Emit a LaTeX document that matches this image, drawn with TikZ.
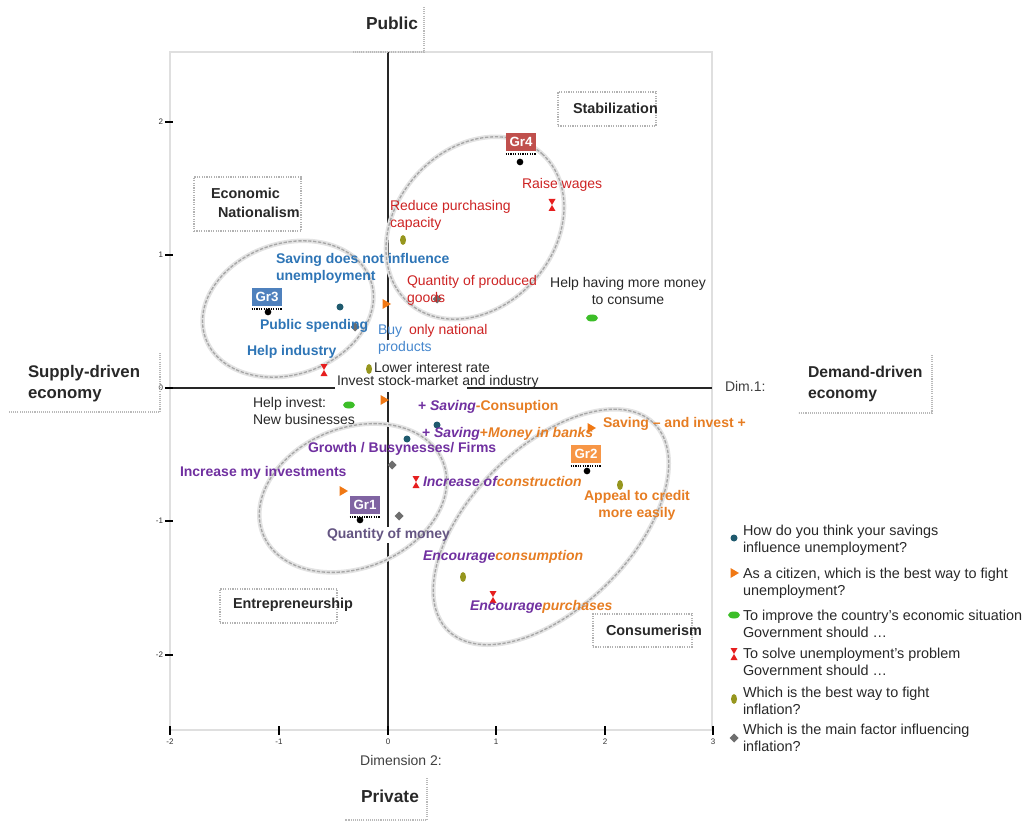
\documentclass[tikz,border=0pt]{standalone}
\usepackage{fontspec}
\setmainfont{Liberation Sans}
\definecolor{cblue}{RGB}{46,117,182}
\definecolor{cbluelt}{RGB}{70,135,205}
\definecolor{cred}{RGB}{205,35,35}
\definecolor{cpurple}{RGB}{112,48,160}
\definecolor{corange}{RGB}{230,125,35}
\definecolor{cqm}{RGB}{100,85,130}
\definecolor{gfour}{RGB}{192,80,77}
\definecolor{gthree}{RGB}{79,129,189}
\definecolor{gone}{RGB}{128,100,162}
\definecolor{gtwo}{RGB}{247,150,70}
\definecolor{mteal}{RGB}{31,90,110}
\definecolor{mor}{RGB}{240,120,20}
\definecolor{mgreen}{RGB}{60,190,40}
\definecolor{mred}{RGB}{230,30,30}
\definecolor{molive}{RGB}{150,150,30}
\definecolor{mgrey}{RGB}{110,110,110}
\definecolor{ctext}{RGB}{40,40,40}
\newcommand\labfont{\fontsize{10.5}{12.75}\selectfont}
\newcommand\legfont{\fontsize{10.8}{12.6}\selectfont}
\tikzset{
 axisline/.style={draw=black!85, line width=1.6pt},
 tickmark/.style={draw=black, line width=1.5pt},
 ticklab/.style={font=\fontsize{6}{7}\selectfont, text=black!80},
 plotframe/.style={draw=gray!25, line width=0.8pt},
 ellout/.style={draw=gray!22, line width=3.4pt},
 ellin/.style={draw=gray!70, line width=1pt, dash pattern=on 2.5pt off 1.2pt},
 lbox/.style={draw=gray!60, line width=1.3pt, dash pattern=on 0.9pt off 0.9pt, inner sep=0pt, anchor=north west},
 shadowline/.style={draw=gray!55, line width=2.2pt, dash pattern=on 0.8pt off 0.8pt},
 boxtxt/.style={font=\bfseries\fontsize{10.8}{14.25}\selectfont, anchor=west, align=left, text=ctext},
 bigtxt/.style={font=\bfseries\fontsize{12.6}{15.75}\selectfont, align=left, text=ctext},
 lab/.style={font=\labfont, anchor=west, align=left},
 grp/.style={text=white, font=\bfseries\fontsize{10}{12}\selectfont, minimum width=23pt, minimum height=14pt, inner sep=1pt},
 cdot/.style={circle, fill=black, minimum size=5pt, inner sep=0pt},
 leg/.style={font=\legfont, anchor=west, align=left, text=ctext},
 mcirc/.pic={\fill[mteal] (0,0) circle [radius=3.5];},
 mtri/.pic={\fill[mor] (-3.5,-5) -- (5,0) -- (-3.5,5) -- cycle;},
 mgrn/.pic={\fill[mgreen] (0,0) ellipse [x radius=6, y radius=3.5];},
 mhour/.pic={\fill[mred] (-3.5,-6) -- (3.5,-6) -- (-3.5,6) -- (3.5,6) -- cycle;},
 moli/.pic={\fill[molive] (0,0) ellipse [x radius=3, y radius=5];},
 mdia/.pic={\fill[mgrey] (0,-4.5) -- (4.5,0) -- (0,4.5) -- (-4.5,0) -- cycle;},
}
\begin{document}
\begin{tikzpicture}[x=0.75pt,y=-0.75pt, every node/.style={inner sep=0pt, outer sep=0pt}]
\useasboundingbox (0,0) rectangle (1027,823);
% plot frame
\draw[plotframe] (170,52) rectangle (712,730);
% axes
\draw[axisline] (388,52) -- (388,340);
\draw[axisline] (388,392) -- (388,527);
\draw[axisline] (388,543) -- (388,730);
\draw[axisline] (170,388) -- (335,388);
\draw[axisline] (467,388) -- (712,388);
% ticks
\foreach \yy/\t/\n in {122/2/a,255/1/b,388/0/c,521/-1/d,655/-2/e}{
  \draw[tickmark] (165,\yy) -- (173,\yy);
  \node[ticklab, anchor=east] (yt\n) at (163,\yy) {\t};
}
\foreach \xx/\t/\n in {170/-2/a,279/-1/b,388/0/c,496/1/d,605/2/e,713/3/f}{
  \draw[tickmark] (\xx,726) -- (\xx,735);
  \node[ticklab] (xt\n) at (\xx,742) {\t};
}
% group ellipses
\foreach \cx/\cy/\ang/\ra/\rb in {288/309/19/87.5/65.5, 475/228/48/100/79, 353/498/22/97/70, 551/527/45/146/80}{
  \draw[ellout, rotate around={\ang:(\cx,\cy)}] (\cx,\cy) ellipse [x radius=\ra, y radius=\rb];
  \draw[ellin, rotate around={\ang:(\cx,\cy)}] (\cx,\cy) ellipse [x radius=\ra, y radius=\rb];
}
% axis titles
\node[bigtxt, font=\bfseries\fontsize{13}{15}\selectfont] (public) at (392,23) {Public};
\draw[shadowline] (424,7) -- (424,52) -- (352,52);
\node[bigtxt, font=\bfseries\fontsize{13}{15}\selectfont] (private) at (390,796) {Private};
\draw[shadowline] (427,778) -- (427,820) -- (345,820);
\node[bigtxt, anchor=west] (supply) at (28,383.5) {Supply-driven\\economy};
\draw[shadowline] (160,353) -- (160,412) -- (9,412);
\node[bigtxt, anchor=west, font=\bfseries\fontsize{11.8}{15.75}\selectfont] (demand) at (808,383.5) {Demand-driven\\economy};
\draw[shadowline] (932,355) -- (932,413) -- (798,413);
\node[lab, text=black!75] (dim1) at (725,386) {Dim.1:};
\node[font=\labfont, text=black!75] (dim2) at (401,760) {Dimension 2:};
% quadrant boxes
\node[lbox, minimum width=80.25pt, minimum height=40.5pt] (bxnat) at (194,177) {};
\node[boxtxt] (tnat) at (211,202.5) {Economic\\\hspace*{5.25pt}Nationalism};
\node[lbox, minimum width=73.5pt, minimum height=25.5pt] (bxstab) at (558,92) {};
\node[boxtxt] (tstab) at (573,108) {Stabilization};
\node[lbox, minimum width=87.75pt, minimum height=25.5pt] (bxent) at (220,589) {};
\node[boxtxt] (tent) at (233,605) {Entrepreneurship};
\node[lbox, minimum width=74.25pt, minimum height=24.75pt] (bxcons) at (593,614) {};
\node[boxtxt] (tcons) at (606,630) {Consumerism};
% markers
\foreach \p in {(340,307),(437,425),(407,439)} {\pic at \p {mcirc};}
\foreach \p in {(386,304),(384,400),(343,491),(591,428)} {\pic at \p {mtri};}
\foreach \p in {(349,405),(592,318)} {\pic at \p {mgrn};}
\foreach \p in {(552,205),(324,370),(416,482),(493,597)} {\pic at \p {mhour};}
\foreach \p in {(403,240),(369,369),(620,485),(463,577)} {\pic at \p {moli};}
\foreach \p in {(392,465),(399,516),(437,299),(355,327)} {\pic at \p {mdia};}
% data labels
\node[lab, text=cblue, font=\bfseries\labfont] (l1) at (276,268.5) {Saving does not influence\\unemployment};
\node[lab, text=cblue, font=\bfseries\labfont] (l2) at (260,326) {Public spending};
\node[lab, text=cblue, font=\bfseries\labfont] (l3) at (247,352) {Help industry};
\node[lab, text=cbluelt] (l4) at (378,339.5) {Buy\\products};
\node[lab, text=cred] (l5) at (409,331) {only national};
\node[lab, text=cred] (l6) at (407,290.5) {Quantity of produced\\goods};
\node[lab, text=cred] (l7) at (390,215.5) {Reduce purchasing\\capacity};
\node[lab, text=cred] (l8) at (522,185) {Raise wages};
\node[font=\labfont, align=center, text=ctext] (l9) at (628,291) {Help having more money\\to consume};
\node[lab, text=ctext] (l10) at (374,367) {Lower interest rate};
\node[lab, text=ctext] (l11) at (337,382) {Invest stock-market and industry};
\node[lab, text=ctext] (l12) at (253,411) {Help invest:\\New businesses};
\node[lab, font=\bfseries\labfont] (l13) at (418,407) {\textcolor{cpurple}{+ \textit{Saving}}\textcolor{corange}{-Consuption}};
\node[lab, font=\bfseries\labfont] (l14) at (422,434) {\textcolor{cpurple}{+ \textit{Saving}}\textcolor{corange}{ +\textit{Money in banks}}};
\node[lab, text=corange, font=\bfseries\labfont] (l15) at (603,424) {Saving -- and invest +};
\node[lab, text=cpurple, font=\bfseries\labfont] (l16) at (308,449) {Growth / Busynesses/ Firms};
\node[lab, text=cpurple, font=\bfseries\labfont] (l17) at (180,473) {Increase my investments};
\node[lab, font=\bfseries\itshape\labfont] (l18) at (423,481) {\textcolor{cpurple}{Increase of}\textcolor{corange}{ construction}};
\node[font=\bfseries\labfont, align=center, text=corange] (l19) at (637,505.5) {Appeal to credit\\more easily};
\node[lab, text=cqm, font=\bfseries\labfont] (l20) at (327,535) {Quantity of money};
\node[lab, font=\bfseries\itshape\labfont] (l21) at (423,557) {\textcolor{cpurple}{Encourage}\textcolor{corange}{consumption}};
\node[lab, font=\bfseries\itshape\labfont] (l22) at (470,607) {\textcolor{cpurple}{Encourage}\textcolor{corange}{purchases}};
% group labels and centroids
\node[grp, fill=gfour] (g4) at (521,142) {Gr4};
\node[cdot] (c4) at (520,162) {};
\node[grp, fill=gthree] (g3) at (267,297) {Gr3};
\node[cdot] (c3) at (268,312) {};
\node[grp, fill=gone] (g1) at (365,505) {Gr1};
\node[cdot] (c1) at (360,520) {};
\node[grp, fill=gtwo] (g2) at (586,454) {Gr2};
\node[cdot] (c2) at (587,471) {};
\foreach \g in {g1,g2,g3,g4}{
  \draw[black, densely dotted, line width=0.8pt] ([yshift=-2pt]\g.south west) -- ([yshift=-2pt]\g.south east);
}
% legend
\pic at (734,538) {mcirc};
\node[leg] (lg1) at (743,540) {How do you think your savings\\influence unemployment?};
\pic at (734,573) {mtri};
\node[leg] (lg2) at (743,583.5) {As a citizen, which is the best way to fight\\unemployment?};
\pic at (734,615) {mgrn};
\node[leg] (lg3) at (743,623.5) {To improve the country’s economic situation\\Government should …};
\pic at (734,654) {mhour};
\node[leg] (lg4) at (743,662) {To solve unemployment’s problem\\Government should …};
\pic at (734,699) {moli};
\node[leg] (lg5) at (743,701) {Which is the best way to fight\\inflation?};
\pic at (734,738) {mdia};
\node[leg] (lg6) at (743,738) {Which is the main factor influencing\\inflation?};
\end{tikzpicture}
\end{document}
